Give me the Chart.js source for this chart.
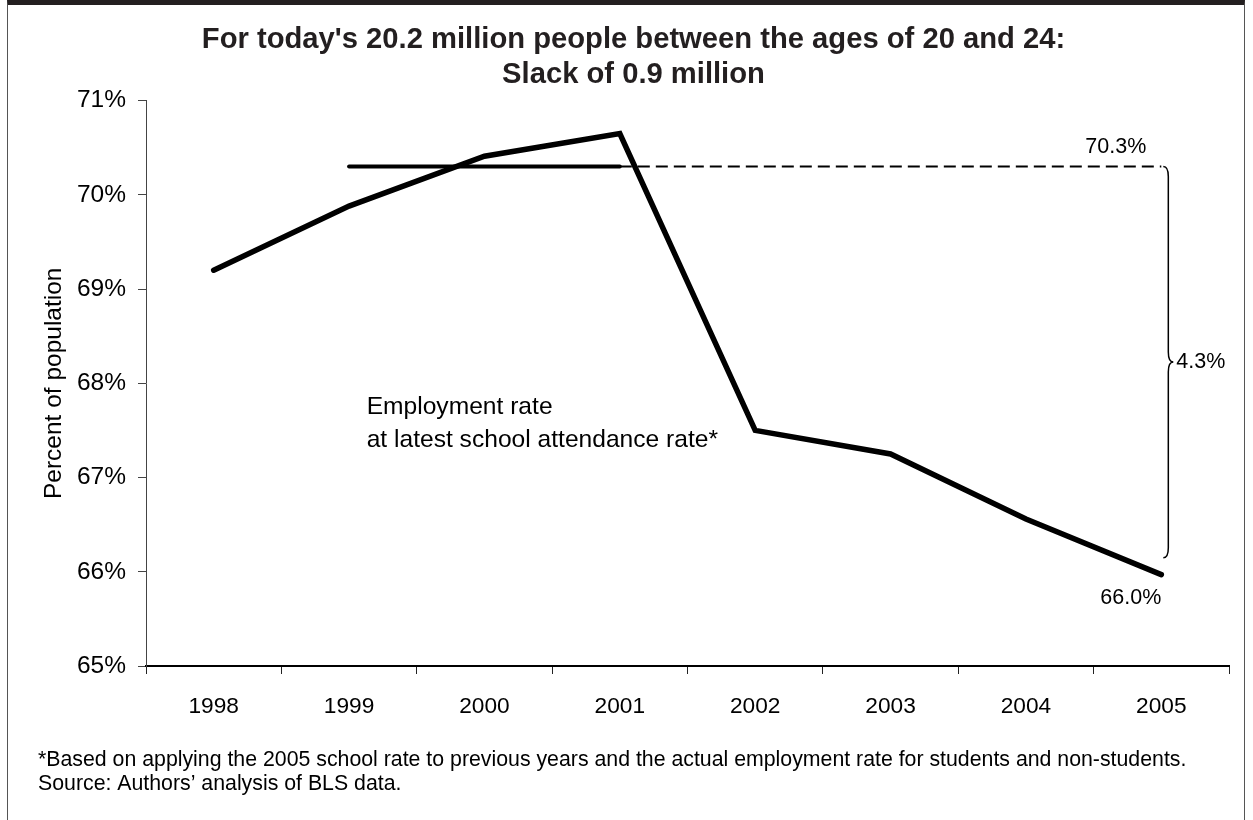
<!DOCTYPE html>
<html>
<head>
<meta charset="utf-8">
<title>Slack of 0.9 million</title>
<script src="https://cdn.jsdelivr.net/npm/chart.js@4.4.1/dist/chart.umd.min.js"></script>
<style>
  body { margin: 0; background: #fff; overflow: hidden; }
  #wrap { position: relative; width: 1253px; height: 820px; }
  #frame {
    position: absolute; left: 7px; top: 0; width: 1238px; height: 820px;
    border-top: 5px solid #231f20; border-left: 1.5px solid #555; border-right: 1.5px solid #555;
    box-sizing: border-box; pointer-events: none;
  }
</style>
</head>
<body>
<div id="wrap">
  <canvas id="c" width="1253" height="820"></canvas>
  <div id="frame"></div>
</div>
<script>
// data
const years = ['1998', '1999', '2000', '2001', '2002', '2003', '2004', '2005']
const employmentRate = [69.2, 69.88, 70.41, 70.65, 67.5, 67.25, 66.56, 65.97]
const levelSolid = [null, 70.3, 70.3, 70.3, null, null, null, null]
const levelDashed = [null, null, null, 70.3, 70.3, 70.3, 70.3, 70.3]
const braceRange = [70.3, 66.15]
const yTicks = [65, 66, 67, 68, 69, 70, 71]

const titleLines = ["For today's 20.2 million people between the ages of 20 and 24:", 'Slack of 0.9 million']
const noteLines = [
    '*Based on applying the 2005 school rate to previous years and the actual employment rate for students and non-students.',
    "Source: Authors\u2019 analysis of BLS data."
]
const seriesNote = ['Employment rate', 'at latest school attendance rate*']
const levelLabel = '70.3%'
const lastLabel = '66.0%'
const gapLabel = '4.3%'

const FONT = "'Liberation Sans', Arial, Helvetica, sans-serif"
Chart.defaults.font.family = FONT
Chart.defaults.color = '#000'

function brace(ctx, x, top, bot) {
    let mid = (top + bot) / 2
    let xs = x + 5, xt = x + 10
    ctx.beginPath()
    ctx.moveTo(x, top)
    ctx.quadraticCurveTo(xs, top, xs, top + 10)
    ctx.lineTo(xs, mid - 10)
    ctx.quadraticCurveTo(xs, mid, xt, mid)
    ctx.quadraticCurveTo(xs, mid, xs, mid + 10)
    ctx.lineTo(xs, bot - 10)
    ctx.quadraticCurveTo(xs, bot, x, bot)
    ctx.stroke()
}

const notes = {
    id: 'notes',
    afterDatasetsDraw(chart) {
        let ctx = chart.ctx
        let xs = chart.scales.x, ys = chart.scales.y
        let last = years.length - 1
        let xEnd = xs.getPixelForValue(last)
        ctx.save()
        ctx.strokeStyle = '#000'
        ctx.lineWidth = 1.5
        brace(ctx, xEnd + 2, ys.getPixelForValue(braceRange[0]), ys.getPixelForValue(braceRange[1]))

        ctx.fillStyle = '#000'
        ctx.font = '21.5px ' + FONT
        ctx.textBaseline = 'middle'
        ctx.textAlign = 'right'
        ctx.fillText(levelLabel, xEnd - 15, ys.getPixelForValue(braceRange[0]) - 19)
        ctx.fillText(lastLabel, xEnd, ys.getPixelForValue(employmentRate[last]) + 23)
        ctx.textAlign = 'left'
        ctx.fillText(gapLabel, xEnd + 15, ys.getPixelForValue((braceRange[0] + braceRange[1]) / 2))

        ctx.font = '24.6px ' + FONT
        ctx.fillText(seriesNote[0], xs.getPixelForValue(1.13), ys.getPixelForValue(67.75))
        ctx.fillText(seriesNote[1], xs.getPixelForValue(1.13), ys.getPixelForValue(67.4))
        ctx.restore()
    },
    afterDraw(chart) {
        let ctx = chart.ctx
        ctx.save()
        ctx.fillStyle = '#000'
        ctx.font = '21.3px ' + FONT
        ctx.textBaseline = 'middle'
        ctx.textAlign = 'left'
        ctx.fillText(noteLines[0], 38, 760)
        ctx.fillText(noteLines[1], 38, 784)
        ctx.restore()
    }
}

new Chart(document.getElementById('c'), {
    type: 'line',
    data: {
        labels: years,
        datasets: [
            { data: employmentRate, borderColor: '#000', borderWidth: 5.5, borderJoinStyle: 'miter', borderCapStyle: 'round' },
            { data: levelSolid, borderColor: '#000', borderWidth: 4, borderCapStyle: 'round' },
            { data: levelDashed, borderColor: '#000', borderWidth: 2, borderDash: [12, 6] }
        ]
    },
    options: {
        responsive: false,
        animation: false,
        devicePixelRatio: 1,
        elements: { point: { radius: 0 }, line: { tension: 0 } },
        layout: { padding: { left: 38, right: 24, top: 0, bottom: 0 } },
        plugins: {
            legend: { display: false },
            tooltip: { enabled: false },
            title: {
                display: true,
                text: titleLines,
                color: '#231f20',
                font: { size: 29.2, weight: 'bold', lineHeight: 1.2 },
                padding: { top: 22.5, bottom: 8 }
            }
        },
        scales: {
            x: {
                offset: true,
                grid: { offset: true, drawOnChartArea: false, tickLength: 8, color: '#222', lineWidth: 1 },
                border: { color: '#000', width: 2 },
                ticks: { font: { size: 22.7 }, padding: 19, color: '#000' },
                afterFit(s) { s.height = 154 }
            },
            y: {
                min: 65,
                max: 71,
                afterBuildTicks(s) { s.ticks = yTicks.map(v => ({ value: v })) },
                grid: { drawOnChartArea: false, tickLength: 8, color: '#444', lineWidth: 1 },
                border: { color: '#444', width: 1 },
                ticks: { font: { size: 24.5 }, padding: 12, color: '#000', callback: v => v + '%' },
                title: { display: true, text: 'Percent of population', font: { size: 24.5 }, color: '#000', padding: { top: 2, bottom: 0 } },
                afterFit(s) { s.width = 108 }
            }
        }
    },
    plugins: [notes]
})
</script>
</body>
</html>
